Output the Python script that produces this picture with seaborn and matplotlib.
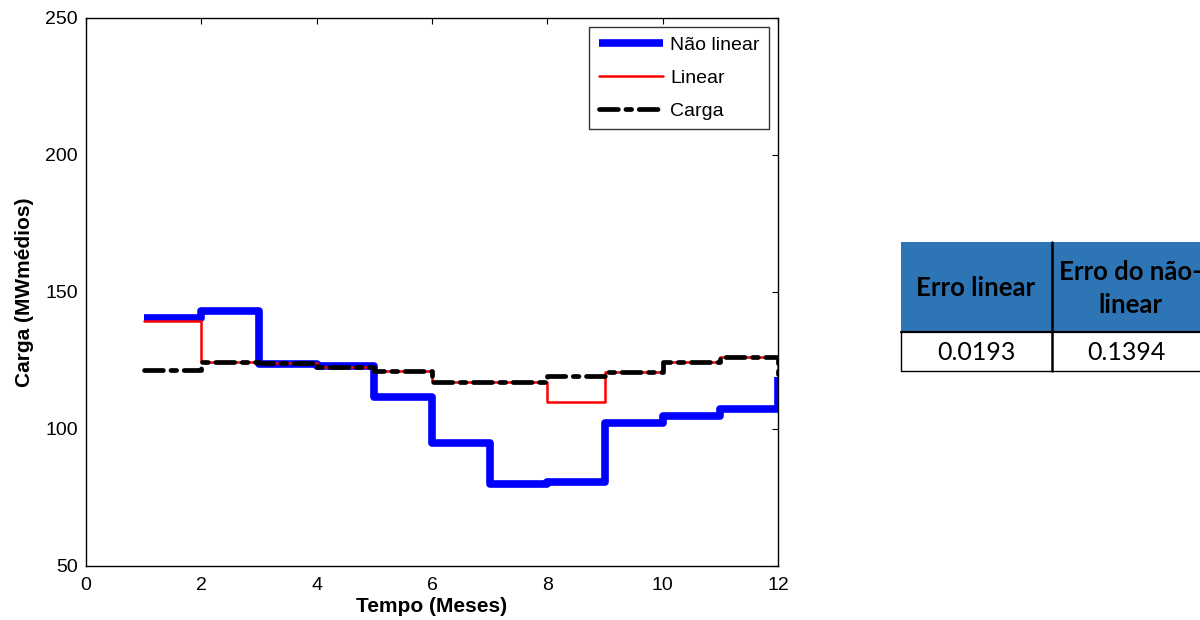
import matplotlib
matplotlib.use("Agg")
import matplotlib.pyplot as plt
import matplotlib.patches as mpatches
import numpy as np
import pandas as pd
import seaborn as sns

# Monthly load series (MWmédios), drawn as stairs starting at month 1
meses = [1, 2, 3, 4, 5, 6, 7, 8, 9, 10, 11, 12]
nao_linear = [140.5, 143.2, 123.8, 122.8, 111.5, 95.0, 80.0, 80.5, 102.0, 104.7, 107.2, 119.0]
linear = [139.5, 124.5, 124.0, 122.5, 121.0, 117.3, 117.3, 110.0, 120.8, 124.3, 126.3, 120.0]
carga = [121.5, 124.5, 124.0, 122.5, 121.0, 117.3, 117.3, 119.2, 120.8, 124.3, 126.3, 120.0]

# Error summary table
tabela_cabecalho = ["Erro linear", "Erro do não-\nlinear"]
tabela_valores = ["0.0193", "0.1394"]

sns.set_style("white")
plt.rcParams["font.family"] = ["Liberation Sans", "DejaVu Sans"]
plt.rcParams.update({"text.color": "black", "axes.labelcolor": "black",
                     "xtick.color": "black", "ytick.color": "black"})

fig = plt.figure(figsize=(12, 6.2), dpi=100)
ax = fig.add_axes([0.0717, 0.0871, 0.5766, 0.884])

df = pd.DataFrame({"Tempo": meses, "Não linear": nao_linear,
                   "Linear": linear, "Carga": carga})

sns.lineplot(data=df, x="Tempo", y="Não linear", ax=ax, color="#0000FF",
             linewidth=5.5, drawstyle="steps-post", label="Não linear",
             solid_joinstyle="round", solid_capstyle="butt")
sns.lineplot(data=df, x="Tempo", y="Linear", ax=ax, color="#FF0000",
             linewidth=1.8, drawstyle="steps-post", label="Linear")
sns.lineplot(data=df, x="Tempo", y="Carga", ax=ax, color="black",
             linewidth=3.4, drawstyle="steps-post", label="Carga")
ax.lines[2].set_dashes((4.0, 1.6, 1.2, 1.6))
ax.lines[2].set_dash_capstyle("round")

ax.set_xlim(0, 12)
ax.set_ylim(50, 250)
ax.set_xticks(np.arange(0, 13, 2))
ax.set_yticks(np.arange(50, 251, 50))
ax.tick_params(axis="both", direction="in", length=4, width=0.8,
               labelsize=14, top=True, right=True)
ax.tick_params(axis="x", pad=8)
ax.tick_params(axis="y", pad=6)
for s in ax.spines.values():
    s.set_color("black")
    s.set_linewidth(1.0)

ax.set_xlabel("Tempo (Meses)", fontsize=15, fontweight="bold", labelpad=2)
ax.set_ylabel("Carga (MWmédios)", fontsize=15, fontweight="bold", labelpad=8)

leg = ax.legend(loc="upper right", fontsize=14, frameon=True, fancybox=False,
                handlelength=3.3, borderpad=0.5, labelspacing=0.78,
                handletextpad=0.35, borderaxespad=0.45)
leg.get_frame().set_edgecolor("black")
leg.get_frame().set_linewidth(1.0)

# Error table drawn in figure pixel coordinates
W, H = 1200, 620
def fx(px):
    return px / W
def fy(py):
    return 1 - py / H

tab_font = ["Lato", "DejaVu Sans"]
cols = [(901, 1052), (1052, 1200)]
head_top, head_bot, row_bot = 242, 332, 371
centros = [976, 1130]
for i, (x0, x1) in enumerate(cols):
    fig.add_artist(mpatches.Rectangle((fx(x0), fy(head_bot)), fx(x1 - x0),
                                      (head_bot - head_top) / H,
                                      facecolor="#2E75B6", edgecolor="none",
                                      transform=fig.transFigure))
    fig.text(fx(centros[i]), fy((head_top + head_bot) / 2 + 1),
             tabela_cabecalho[i], ha="center", va="center", fontsize=18.5,
             fontweight="bold", family=tab_font, linespacing=1.45)
    fig.text(fx((x0 + x1) / 2), fy((head_bot + row_bot) / 2 + 1),
             tabela_valores[i], ha="center", va="center", fontsize=18,
             family=tab_font)

def hline(x0, x1, y, lw=1.0):
    fig.add_artist(plt.Line2D([fx(x0), fx(x1)], [fy(y), fy(y)], color="black",
                              linewidth=lw, transform=fig.transFigure))
def vline(x, y0, y1, lw=1.0):
    fig.add_artist(plt.Line2D([fx(x), fx(x)], [fy(y0), fy(y1)], color="black",
                              linewidth=lw, transform=fig.transFigure))

hline(901, 1200, head_bot, 1.6)
hline(901, 1200, row_bot, 1.0)
vline(901, head_bot, row_bot, 1.0)
vline(1052, head_top, row_bot, 1.8)

fig.savefig("out.png", dpi=100)
